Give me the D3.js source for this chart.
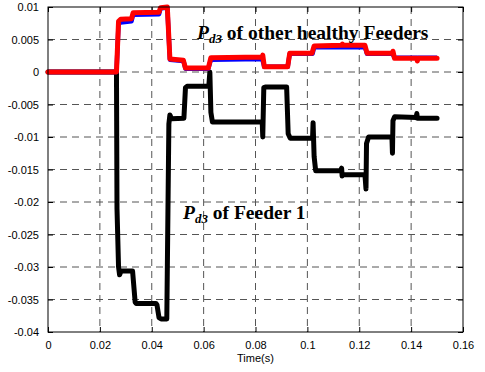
<!DOCTYPE html>
<html>
<head>
<meta charset="utf-8">
<script src="https://cdn.jsdelivr.net/npm/d3@7"></script>
<style>
  body { margin: 0; background: #fff; }
  svg { display: block; }
</style>
</head>
<body>
<div id="chart"></div>
<script>
// tick values
var xTicks = [0, 0.02, 0.04, 0.06, 0.08, 0.1, 0.12, 0.14, 0.16];
var yTicks = [0.01, 0.005, 0, -0.005, -0.01, -0.015, -0.02, -0.025, -0.03, -0.035, -0.04];

// Pd3 of Feeder 1 (black)
var feeder1T = [0, 0.0264, 0.0266, 0.0272, 0.0276, 0.0282, 0.0326, 0.0336, 0.0340, 0.0416, 0.0420, 0.0428, 0.0436, 0.0458,
  0.0466, 0.0470, 0.0476, 0.0524, 0.0530, 0.0536, 0.0620, 0.0624, 0.0628, 0.0634, 0.0826, 0.0828, 0.0832, 0.0838,
  0.0920, 0.0926, 0.0934, 0.1020, 0.1022, 0.1026, 0.1032, 0.1128, 0.1132, 0.1134, 0.1136, 0.1222, 0.1226, 0.1228,
  0.1236, 0.1326, 0.1328, 0.1330, 0.1336, 0.1420, 0.1422, 0.1424, 0.15];
var feeder1V = [0, 0, -0.021, -0.030, -0.0312, -0.0306, -0.0306, -0.0354, -0.0356, -0.0356, -0.0358, -0.0378, -0.038, -0.038,
  -0.008, -0.0066, -0.0072, -0.0071, -0.0024, -0.0022, -0.0022, 0, -0.0062, -0.0077, -0.0077, -0.010, -0.0024, -0.0023,
  -0.0023, -0.0095, -0.0102, -0.0102, -0.0078, -0.013, -0.0152, -0.0152, -0.0148, -0.016, -0.0158, -0.0158, -0.018, -0.011,
  -0.010, -0.010, -0.0125, -0.0075, -0.0069, -0.0070, -0.0064, -0.0071, -0.0071];

// Pd3 of other healthy feeders (red on top, blue under)
var redT = [0, 0.0264, 0.0272, 0.0280, 0.0322, 0.0328, 0.0428, 0.0434, 0.0460, 0.0470, 0.0522, 0.0530, 0.0618, 0.0628,
  0.0826, 0.0828, 0.0834, 0.0924, 0.0932, 0.1018, 0.1020, 0.1026, 0.1133, 0.1135, 0.1137, 0.1222, 0.1230, 0.1328,
  0.1330, 0.1336, 0.1422, 0.1424, 0.1426, 0.15];
var redV = [0, 0, 0.0078, 0.0081, 0.0082, 0.0091, 0.0092, 0.0099, 0.0100, 0.0020, 0.0018, 0.0006, 0.0006, 0.0022,
  0.0023, 0.0026, 0.0008, 0.0008, 0.0029, 0.0029, 0.0032, 0.0040, 0.0041, 0.0043, 0.0041, 0.0041, 0.0029, 0.0029,
  0.0032, 0.0021, 0.0021, 0.0017, 0.0021, 0.0021];
var blueT = [0, 0.0264, 0.0272, 0.0280, 0.0322, 0.0328, 0.0428, 0.0434, 0.0460, 0.0470, 0.0522, 0.0530, 0.0618, 0.0628,
  0.0826, 0.0834, 0.0924, 0.0932, 0.1020, 0.1026, 0.1222, 0.1230, 0.1328, 0.1336, 0.15];
var blueV = [0, 0, 0.0074, 0.0076, 0.0078, 0.0088, 0.0089, 0.0098, 0.0099, 0.0019, 0.0017, 0.0005, 0.0005, 0.0019,
  0.0020, 0.0008, 0.0008, 0.0028, 0.0028, 0.0038, 0.0038, 0.0028, 0.0028, 0.0022, 0.0022];

var w = 485;
var h = 372;
var padL = 48, padR = 463, padT = 7, padB = 332;

var svg = d3.select("#chart").append("svg")
  .attr("width", w)
  .attr("height", h)
  .style("background", "#fff");

var xScale = d3.scaleLinear().domain([0, 0.16]).range([padL, padR]);
var yScale = d3.scaleLinear().domain([-0.04, 0.01]).range([padB, padT]);

// grid
svg.append("g")
  .selectAll("line")
  .data(xTicks.slice(1, -1))
  .enter()
  .append("line")
  .attr("x1", function (d) { return xScale(d); })
  .attr("x2", function (d) { return xScale(d); })
  .attr("y1", padT)
  .attr("y2", padB)
  .attr("stroke", "#555")
  .attr("stroke-dasharray", "7,5");

svg.append("g")
  .selectAll("line")
  .data(yTicks.slice(1, -1))
  .enter()
  .append("line")
  .attr("x1", padL)
  .attr("x2", padR)
  .attr("y1", function (d) { return yScale(d); })
  .attr("y2", function (d) { return yScale(d); })
  .attr("stroke", "#555")
  .attr("stroke-dasharray", "7,5");

// axes (ticks inward, matlab style)
var axisFont = "'Liberation Sans', Arial, sans-serif";
var fmt = function (d) { return String(+d.toFixed(3)); };

svg.append("g")
  .attr("transform", "translate(0," + padB + ")")
  .call(d3.axisBottom(xScale).tickValues(xTicks).tickSize(-5).tickPadding(9).tickFormat(fmt));
svg.append("g")
  .attr("transform", "translate(0," + padT + ")")
  .call(d3.axisTop(xScale).tickValues(xTicks).tickSize(-5).tickFormat(""));
svg.append("g")
  .attr("transform", "translate(" + padL + ",0)")
  .call(d3.axisLeft(yScale).tickValues(yTicks).tickSize(-5).tickPadding(9).tickFormat(fmt));
svg.append("g")
  .attr("transform", "translate(" + padR + ",0)")
  .call(d3.axisRight(yScale).tickValues(yTicks).tickSize(-5).tickFormat(""));

svg.selectAll(".domain").remove();
svg.selectAll(".tick line").attr("stroke", "#000");
svg.selectAll(".tick text")
  .style("font-family", axisFont)
  .style("font-size", "11px")
  .attr("fill", "#000");

// lines
function makeLine(ts, vs) {
  return d3.line()
    .x(function (d) { return xScale(ts[d]); })
    .y(function (d) { return yScale(vs[d]); })(d3.range(ts.length));
}

svg.append("path")
  .attr("d", makeLine(feeder1T, feeder1V))
  .attr("fill", "none")
  .attr("stroke", "#000")
  .attr("stroke-width", 5)
  .attr("stroke-linejoin", "round")
  .attr("stroke-linecap", "round");

svg.append("path")
  .attr("d", makeLine(blueT, blueV))
  .attr("fill", "none")
  .attr("stroke", "#0000ff")
  .attr("stroke-width", 4.5)
  .attr("stroke-linejoin", "round");

svg.append("path")
  .attr("d", makeLine(redT, redV))
  .attr("fill", "none")
  .attr("stroke", "#ff0000")
  .attr("stroke-width", 5)
  .attr("stroke-linejoin", "round")
  .attr("stroke-linecap", "round");

// frame
svg.append("rect")
  .attr("x", padL)
  .attr("y", padT)
  .attr("width", padR - padL)
  .attr("height", padB - padT)
  .attr("fill", "none")
  .attr("stroke", "#000")
  .attr("stroke-width", 1);

// x label
svg.append("text")
  .attr("x", (padL + padR) / 2)
  .attr("y", 362)
  .attr("text-anchor", "middle")
  .style("font-family", axisFont)
  .style("font-size", "11px")
  .text("Time(s)");

// annotations
function annotate(x, y, rest) {
  var t = svg.append("text")
    .attr("x", x)
    .attr("y", y)
    .style("font-family", "'Liberation Serif', 'Times New Roman', serif")
    .style("font-weight", "bold")
    .style("font-size", "19.5px");
  t.append("tspan").style("font-style", "italic").text("P");
  t.append("tspan").style("font-style", "italic").style("font-size", "13px").attr("dy", 4).text("d3");
  t.append("tspan").attr("dy", -4).text(rest);
}
annotate(197, 39, " of other healthy Feeders");
annotate(183, 219, " of Feeder 1");
</script>
</body>
</html>
